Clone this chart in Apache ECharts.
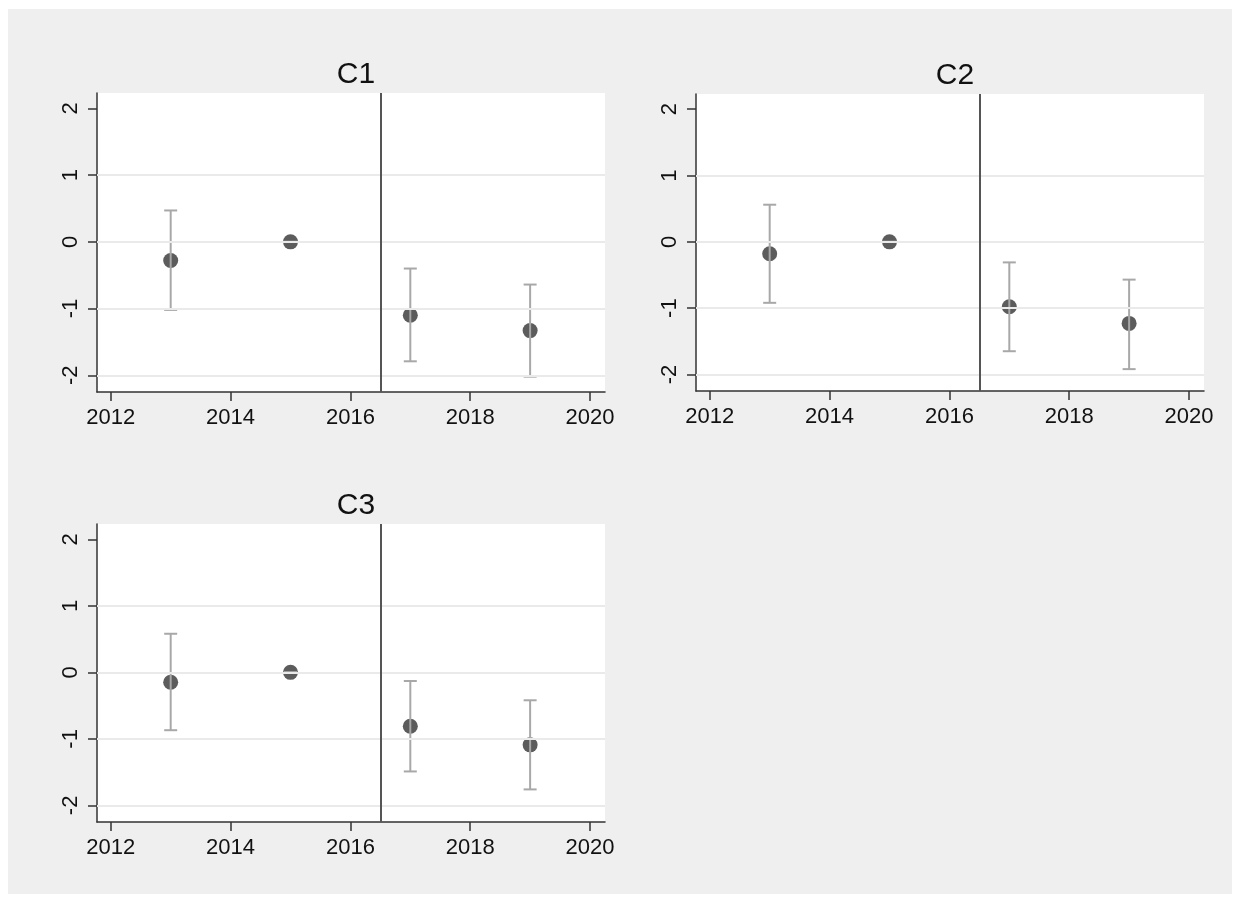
<!DOCTYPE html>
<html>
<head>
<meta charset="utf-8">
<script src="https://cdn.jsdelivr.net/npm/echarts@6/dist/echarts.min.js"></script>
<style>
  html, body { margin: 0; padding: 0; background: #fff; }
  #main { width: 1241px; height: 903px; }
</style>
</head>
<body>
<div id="main"></div>
<script>
// event-study estimates
var years = [2013, 2015, 2017, 2019];
var panelTitles = ['C1', 'C2', 'C3'];

var c1Est = [-0.28, 0, -1.10, -1.33];
var c1Lo  = [-1.02, 0, -1.79, -2.02];
var c1Hi  = [0.47, 0, -0.40, -0.64];

var c2Est = [-0.18, 0, -0.98, -1.23];
var c2Lo  = [-0.92, 0, -1.65, -1.92];
var c2Hi  = [0.56, 0, -0.31, -0.57];

var c3Est = [-0.15, 0, -0.81, -1.09];
var c3Lo  = [-0.87, 0, -1.49, -1.76];
var c3Hi  = [0.58, 0, -0.13, -0.42];

var xTicks = [2012, 2014, 2016, 2018, 2020];
var yTicks = [-2, -1, 0, 1, 2];
var gridLineValues = [-2, -1, 0, 1];
var cutYear = 2016.5;

var panels = [
  { est: c1Est, lo: c1Lo, hi: c1Hi },
  { est: c2Est, lo: c2Lo, hi: c2Hi },
  { est: c3Est, lo: c3Lo, hi: c3Hi }
];

var grids = [
  { left: 97, top: 93, width: 508, height: 299 },
  { left: 696, top: 94, width: 508, height: 297 },
  { left: 97, top: 524, width: 508, height: 298 }
];

var FONT = '"Liberation Sans", Arial, sans-serif';
var axisColor = '#333';

var xAxes = [], yAxes = [], series = [], titles = [];

grids.forEach(function (g, i) {
  titles.push({
    text: panelTitles[i],
    left: g.left + g.width / 2,
    top: g.top - 38,
    textAlign: 'center',
    textStyle: { fontFamily: FONT, fontSize: 30, fontWeight: 'normal', color: '#111' }
  });
  xAxes.push({
    type: 'value', gridIndex: i, min: 2011.77, max: 2020.25,
    axisLine: { show: true, onZero: false, lineStyle: { color: axisColor, width: 1.5 } },
    axisTick: { show: true, length: 9, customValues: xTicks, lineStyle: { color: axisColor, width: 1.5 } },
    axisLabel: {
      customValues: xTicks, margin: 15, fontFamily: FONT, fontSize: 22, color: '#111',
      formatter: function (v) { return String(v); }
    },
    splitLine: { show: false }
  });
  yAxes.push({
    type: 'value', gridIndex: i, min: -2.25, max: 2.23,
    axisLine: { show: true, lineStyle: { color: axisColor, width: 1.5 } },
    axisTick: { show: true, length: 9, customValues: yTicks, lineStyle: { color: axisColor, width: 1.5 } },
    axisLabel: { customValues: yTicks, rotate: 90, margin: 15, fontFamily: FONT, fontSize: 22, color: '#111' },
    splitLine: { show: false }
  });

  var p = panels[i];
  // reference grid lines and the policy cut-off
  series.push({
    type: 'line', xAxisIndex: i, yAxisIndex: i, data: [], silent: true,
    markLine: {
      symbol: 'none', silent: true, label: { show: false },
      data: gridLineValues.map(function (v) {
        return { yAxis: v, lineStyle: { color: '#eaeaea', width: 2, type: 'solid' } };
      }).concat([{ xAxis: cutYear, lineStyle: { color: '#555', width: 2, type: 'solid' } }])
    },
    z: 1
  });
  // point estimates
  series.push({
    type: 'scatter', xAxisIndex: i, yAxisIndex: i,
    symbol: 'circle', symbolSize: 15,
    itemStyle: { color: '#5c5c5c', opacity: 1 },
    data: years.map(function (y, k) { return [y, p.est[k]]; }),
    z: 3
  });
  // confidence intervals (drawn on top of markers, like the original)
  series.push({
    type: 'custom', xAxisIndex: i, yAxisIndex: i,
    data: years.map(function (y, k) { return [y, p.lo[k], p.hi[k]]; }),
    renderItem: function (params, api) {
      var top = api.coord([api.value(0), api.value(2)]);
      var bot = api.coord([api.value(0), api.value(1)]);
      var hw = 6.5;
      var st = { stroke: '#a8a8a8', lineWidth: 2 };
      return {
        type: 'group',
        children: [
          { type: 'line', shape: { x1: top[0], y1: top[1], x2: bot[0], y2: bot[1] }, style: st },
          { type: 'line', shape: { x1: top[0] - hw, y1: top[1], x2: top[0] + hw, y2: top[1] }, style: st },
          { type: 'line', shape: { x1: bot[0] - hw, y1: bot[1], x2: bot[0] + hw, y2: bot[1] }, style: st }
        ]
      };
    },
    z: 4
  });
});

var chart = echarts.init(document.getElementById('main'), null, { renderer: 'canvas' });
chart.setOption({
  animation: false,
  backgroundColor: '#ffffff',
  graphic: [{
    type: 'rect', z: -10, silent: true,
    shape: { x: 8, y: 9, width: 1224, height: 885 },
    style: { fill: '#efefef' }
  }].concat(grids.map(function (g) {
    return {
      type: 'rect', z: -9, silent: true,
      shape: { x: g.left, y: g.top, width: g.width, height: g.height },
      style: { fill: '#ffffff' }
    };
  })),
  title: titles,
  grid: grids.map(function (g) { return Object.assign({ containLabel: false }, g); }),
  xAxis: xAxes,
  yAxis: yAxes,
  series: series
});
</script>
</body>
</html>
